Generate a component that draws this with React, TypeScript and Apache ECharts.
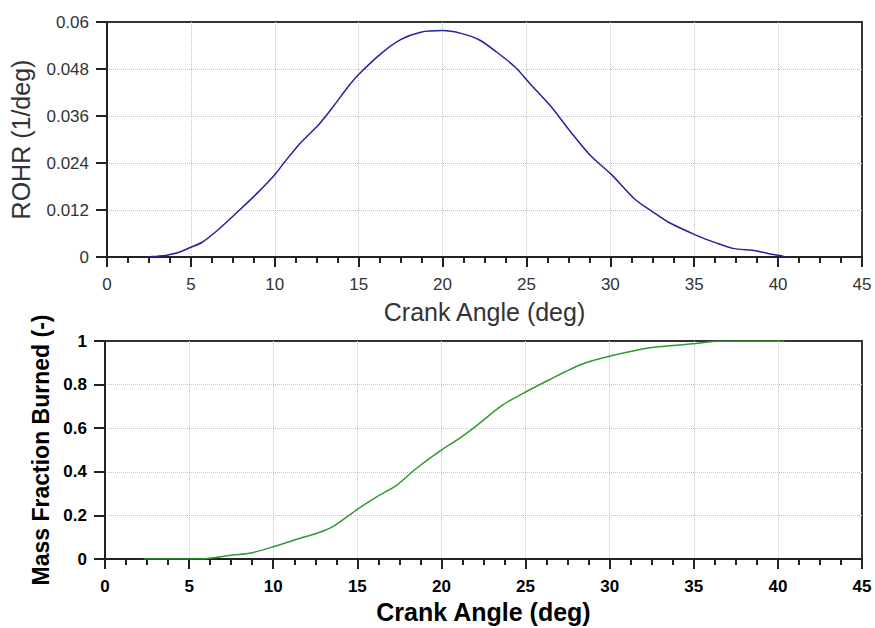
import React, { useEffect, useRef } from "react";
import * as echarts from "echarts";

// Rate of heat release vs crank angle
const rohrAngle = [2.4, 3.0, 3.5, 4.3, 5.0, 5.65, 6.5, 7.9, 9.0, 10.0, 10.6, 11.5, 12.6, 13.5, 14.3, 15.0, 16.35, 17.5, 18.7, 20.0, 21.1, 22.2, 23.2, 24.4, 25.2, 26.55, 27.55, 28.8, 30.1, 31.5, 32.5, 33.5, 35.1, 36.3, 37.3, 38.65, 39.6, 40.2, 40.4];
const rohrValue = [0, 0.0002, 0.0004, 0.0012, 0.0025, 0.0037, 0.0065, 0.012, 0.0165, 0.021, 0.0243, 0.029, 0.0337, 0.0385, 0.0431, 0.0466, 0.052, 0.0555, 0.0574, 0.0578, 0.0571, 0.0554, 0.0524, 0.0482, 0.0443, 0.038, 0.0324, 0.026, 0.0209, 0.0146, 0.0116, 0.0088, 0.0056, 0.0036, 0.0022, 0.0016, 0.0007, 0.0003, 0];

// Cumulative mass fraction burned vs crank angle
const mfbAngle = [2.3, 5.65, 6.5, 7.6, 8.6, 10.0, 11.6, 12.6, 13.6, 15.0, 16.15, 17.35, 18.5, 19.9, 21.0, 22.0, 23.6, 25.2, 26.35, 28.3, 30.1, 32.5, 35.1, 36.1, 37.9, 40.4];
const mfbValue = [0, 0, 0.006, 0.018, 0.026, 0.056, 0.095, 0.118, 0.151, 0.228, 0.285, 0.339, 0.415, 0.495, 0.55, 0.606, 0.705, 0.774, 0.82, 0.892, 0.932, 0.97, 0.988, 0.998, 1.0, 1.0];

const angleTicks = { min: 0, max: 45, interval: 5 };
const rohrTicks = { min: 0, max: 0.06, interval: 0.012 };
const mfbTicks = { min: 0, max: 1, interval: 0.2 };

const FONT = "'Liberation Sans', Arial, sans-serif";
const INK = "#222";

export default function App() {
  const ref = useRef<HTMLDivElement>(null);

  useEffect(() => {
    if (!ref.current) return;
    const chart = echarts.init(ref.current, undefined, { renderer: "svg" });

    const axisLine = { show: true, onZero: false, lineStyle: { color: INK, width: 2 } };
    const splitLine = {
      show: true,
      showMinLine: false,
      showMaxLine: false,
      lineStyle: { color: "#c4c4c4", type: "dotted" as const, width: 1 },
    };
    const fmt = (v: number) => String(parseFloat(v.toFixed(4)));

    const xAxisBase = (gridIndex: number, bold: boolean, nameGap: number, color: string) => ({
      type: "value" as const,
      gridIndex,
      position: "bottom" as const,
      ...angleTicks,
      name: "Crank Angle (deg)",
      nameLocation: "middle" as const,
      nameGap,
      nameTextStyle: { fontFamily: FONT, fontSize: 25, color, fontWeight: bold ? ("bold" as const) : ("normal" as const) },
      axisLine,
      axisTick: { show: true, inside: false, length: 10, lineStyle: { color: INK, width: 2 } },
      minorTick: { show: true, splitNumber: 4, length: 6, lineStyle: { color: INK, width: 2 } },
      axisLabel: { fontFamily: FONT, fontSize: 17, color, margin: 19, fontWeight: bold ? ("bold" as const) : ("normal" as const), formatter: fmt },
      splitLine,
    });

    const yAxisBase = (
      gridIndex: number,
      ticks: { min: number; max: number; interval: number },
      name: string,
      nameGap: number,
      nameSize: number,
      bold: boolean,
      color: string
    ) => ({
      type: "value" as const,
      gridIndex,
      position: "left" as const,
      ...ticks,
      name,
      nameLocation: "middle" as const,
      nameGap,
      nameTextStyle: { fontFamily: FONT, fontSize: nameSize, color, fontWeight: bold ? ("bold" as const) : ("normal" as const) },
      axisLine,
      axisTick: { show: true, inside: false, length: 11, lineStyle: { color: INK, width: 2 } },
      axisLabel: { fontFamily: FONT, fontSize: 17, color, margin: 18, fontWeight: bold ? ("bold" as const) : ("normal" as const), formatter: fmt },
      splitLine,
    });

    chart.setOption({
      animation: false,
      backgroundColor: "#ffffff",
      grid: [
        { left: 105, top: 22, width: 757, height: 235, show: true, borderColor: "#333", borderWidth: 2 },
        { left: 105, top: 341, width: 757, height: 218, show: true, borderColor: "#333", borderWidth: 2 },
      ],
      xAxis: [xAxisBase(0, false, 42, "#333"), xAxisBase(1, true, 40, "#000")],
      yAxis: [
        yAxisBase(0, rohrTicks, "ROHR (1/deg)", 74, 25, false, "#333"),
        yAxisBase(1, mfbTicks, "Mass Fraction Burned (-)", 52, 23, true, "#000"),
      ],
      series: [
        {
          type: "line",
          xAxisIndex: 0,
          yAxisIndex: 0,
          data: rohrAngle.map((a, i) => [a, rohrValue[i]]),
          smooth: 0.25,
          showSymbol: false,
          lineStyle: { color: "#23239a", width: 1.5 },
        },
        {
          type: "line",
          xAxisIndex: 1,
          yAxisIndex: 1,
          data: mfbAngle.map((a, i) => [a, mfbValue[i]]),
          smooth: 0.25,
          showSymbol: false,
          lineStyle: { color: "#2f9a2f", width: 1.5 },
        },
      ],
    });

    return () => chart.dispose();
  }, []);

  return <div ref={ref} style={{ position: "absolute", left: 0, top: 0, width: 875, height: 628 }} />;
}
